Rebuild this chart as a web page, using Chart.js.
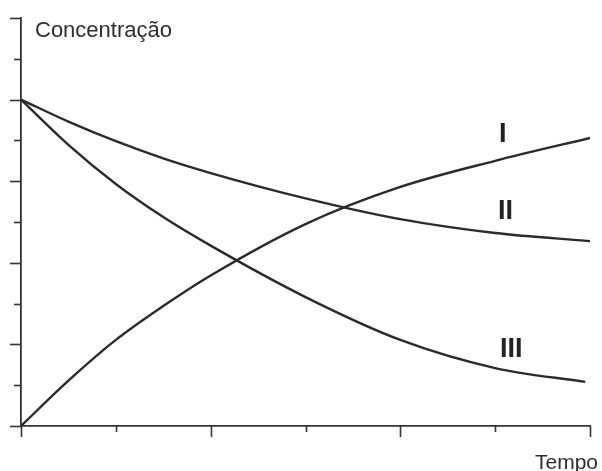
<!DOCTYPE html>
<html>
<head>
<meta charset="utf-8">
<script src="https://cdn.jsdelivr.net/npm/chart.js@4/dist/chart.umd.min.js"></script>
<style>
html,body{margin:0;padding:0;background:#fff;}
#wrap{width:602px;height:471px;position:relative;}
</style>
</head>
<body>
<div id="wrap"><canvas id="c" width="602" height="471"></canvas></div>
<script>
// Data
const tempo = [0, 0.5, 1, 1.5, 2, 3, 4, 5, 6];
const tempoIII = [0, 0.5, 1, 1.5, 2, 3, 4, 5, 5.95];
const serieI = [0, 1.11, 2.11, 2.94, 3.69, 4.95, 5.86, 6.50, 7.06];
const serieII = [8, 7.46, 6.98, 6.56, 6.2, 5.58, 5.07, 4.73, 4.53];
const serieIII = [8, 6.89, 5.93, 5.12, 4.42, 3.16, 2.11, 1.42, 1.08];
const nomes = ['I', 'II', 'III'];
const xTicks = [0, 1, 2, 3, 4, 5, 6];
const yTicks = [0, 1, 2, 3, 4, 5, 6, 7, 8, 9, 10];
const yTitle = 'Concentração';
const xTitle = 'Tempo';

// label anchor positions (data coordinates)
const labelX = [5.08, 5.11, 5.17];
const labelY = [7.16, 5.29, 1.89];

const toPts = (xs, ys) => xs.map((x, i) => ({x: x, y: ys[i]}));
const lineColor = '#2b2b2b';
const mk = (name, xs, ys) => ({
  label: name, data: toPts(xs, ys), borderColor: lineColor, borderWidth: 2.4,
  pointRadius: 0, fill: false, cubicInterpolationMode: 'monotone'
});

const decor = {
  id: 'decor',
  afterDraw(chart) {
    const ctx = chart.ctx, xs = chart.scales.x, ys = chart.scales.y;
    const left = chart.chartArea.left, bottom = chart.chartArea.bottom;
    ctx.save();
    ctx.strokeStyle = '#333';
    ctx.lineWidth = 1.6;
    yTicks.forEach(v => {
      const py = Math.round(ys.getPixelForValue(v)) + 0.5;
      const len = v % 2 === 0 ? 11 : 7;
      ctx.beginPath(); ctx.moveTo(left - len, py); ctx.lineTo(left, py); ctx.stroke();
    });
    xTicks.forEach(v => {
      const px = Math.round(xs.getPixelForValue(v)) + 0.5;
      const len = v % 2 === 0 ? 11 : 6;
      ctx.beginPath(); ctx.moveTo(px, bottom); ctx.lineTo(px, bottom + len); ctx.stroke();
    });
    ctx.fillStyle = '#2e2e2e';
    ctx.font = '22px "Liberation Sans", Arial, sans-serif';
    ctx.textBaseline = 'alphabetic';
    ctx.textAlign = 'left';
    ctx.fillText(yTitle, 35, 37);
    ctx.font = '21px "Liberation Sans", Arial, sans-serif';
    ctx.textAlign = 'right';
    ctx.fillText(xTitle, 598, 469);
    ctx.font = 'bold 27px "Liberation Sans", Arial, sans-serif';
    ctx.textAlign = 'center';
    ctx.textBaseline = 'middle';
    ctx.fillStyle = '#222';
    nomes.forEach((n, i) => {
      ctx.fillText(n, xs.getPixelForValue(labelX[i]), ys.getPixelForValue(labelY[i]) + 1);
    });
    ctx.restore();
  }
};

new Chart(document.getElementById('c'), {
  type: 'line',
  data: {
    datasets: [
      mk(nomes[0], tempo, serieI),
      mk(nomes[1], tempo, serieII),
      mk(nomes[2], tempoIII, serieIII)
    ]
  },
  options: {
    responsive: false,
    animation: false,
    layout: {padding: {top: 18, right: 12, left: 0, bottom: 0}},
    plugins: {legend: {display: false}, tooltip: {enabled: false}},
    scales: {
      x: {
        type: 'linear', min: 0, max: 6,
        ticks: {display: false},
        grid: {display: false},
        border: {display: true, color: '#333', width: 1.8},
        afterFit: s => { s.height = 45; }
      },
      y: {
        type: 'linear', min: 0, max: 10,
        ticks: {display: false},
        grid: {display: false},
        border: {display: true, color: '#333', width: 1.8},
        afterFit: s => { s.width = 21; }
      }
    }
  },
  plugins: [decor]
});
</script>
</body>
</html>
